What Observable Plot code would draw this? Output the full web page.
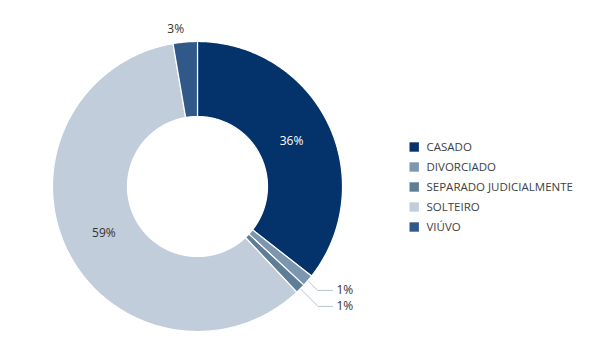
<!DOCTYPE html>
<html>
<head>
<meta charset="utf-8">
<script src="https://cdn.jsdelivr.net/npm/d3@7"></script>
<script src="https://cdn.jsdelivr.net/npm/@observablehq/plot@0.6"></script>
<style>
  html, body { margin: 0; padding: 0; background: #fff; }
  #chart { width: 603px; height: 340px; }
</style>
</head>
<body>
<div id="chart"></div>
<script>
// ---- data ----
const categories = ["CASADO", "DIVORCIADO", "SEPARADO JUDICIALMENTE", "SOLTEIRO", "VIÚVO"];
const values = [35.6, 1.3, 1.1, 59.3, 2.7];
const colors = ["#03336a", "#7d96b0", "#5e7e98", "#c1cdda", "#30598a"];

// ---- layout ----
const W = 603, H = 340;
const cx = 197, cy = 186;          // donut centre in pixels
const R0 = 70, R1 = 145;           // inner / outer radius
const font = "'Open Sans', 'Noto Sans', sans-serif";

const data = categories.map((name, i) => ({name, value: values[i]}));
const total = d3.sum(values);
const arcs = d3.pie().sort(null).value(d => d.value)(data);

const pt = (r, a) => ({x: r * Math.sin(a), y: -r * Math.cos(a)});

// slice outlines (sampled along the arcs)
const rows = [];
for (const a of arcs) {
  const n = Math.max(2, Math.ceil((a.endAngle - a.startAngle) / 0.01));
  for (let k = 0; k <= n; k++) {
    const t = a.startAngle + (a.endAngle - a.startAngle) * k / n;
    rows.push({name: a.data.name, ...pt(R1, t)});
  }
  for (let k = n; k >= 0; k--) {
    const t = a.startAngle + (a.endAngle - a.startAngle) * k / n;
    rows.push({name: a.data.name, ...pt(R0, t)});
  }
}

const pct = a => Math.round(a.data.value / total * 100) + "%";
const mid = a => (a.startAngle + a.endAngle) / 2;

// inside labels
const inside = arcs.filter(a => a.data.value / total >= 0.05)
  .map(a => ({...pt((R0 + R1) / 2 - 3, mid(a)), text: pct(a), name: a.data.name}));

// outside label at top (left half)
const topLabels = arcs.filter(a => a.data.value / total < 0.05 && mid(a) > Math.PI)
  .map(a => ({...pt(R1 + 13, mid(a)), text: pct(a)}));

// leader-line labels (right half)
const small = arcs.filter(a => a.data.value / total < 0.05 && mid(a) <= Math.PI);
const leaderRows = [];
const leaderLabels = [];
let lastY = -Infinity;
small.forEach((a, i) => {
  const s = pt(R1 + 1, mid(a));
  const e0 = pt(R1 + 15, mid(a));
  let ly = Math.max(e0.y, lastY + 16);
  lastY = ly;
  const ex = s.x + (ly - s.y);
  leaderRows.push({id: i, x: s.x, y: s.y}, {id: i, x: ex, y: ly}, {id: i, x: 135, y: ly});
  leaderLabels.push({x: 139, y: ly, text: pct(a)});
});

// legend
const legend = categories.map((name, i) => ({name, x: 409 + 4.7 - cx, y: 146.5 + i * 20 - cy}));

const plot = Plot.plot({
  width: W,
  height: H,
  margin: 0,
  style: {fontFamily: font, background: "#fff"},
  x: {domain: [-cx, W - cx], range: [0, W], axis: null},
  y: {domain: [-cy, H - cy], range: [0, H], axis: null},
  color: {domain: categories, range: colors, legend: false},
  marks: [
    Plot.line(rows, {x: "x", y: "y", z: "name", fill: "name", stroke: "white", strokeWidth: 1.2, curve: "linear-closed"}),
    Plot.line(leaderRows, {x: "x", y: "y", z: "id", stroke: "#b9c3ce", strokeWidth: 1}),
    Plot.text(inside, {x: "x", y: "y", text: "text", fontSize: 12, fill: d => d.name === "CASADO" ? "#ffffff" : "#333333", fontWeight: d => d.name === "CASADO" ? 600 : 400}),
    Plot.text(topLabels, {x: "x", y: "y", text: "text", fontSize: 12, fill: "#333", textAnchor: "end"}),
    Plot.text(leaderLabels, {x: "x", y: "y", text: "text", fontSize: 12, fill: "#333", textAnchor: "start"}),
    Plot.dot(legend, {x: "x", y: "y", fill: "name", symbol: "square", r: 5.3, stroke: null}),
    Plot.text(legend, {x: d => d.x + 12.3, y: "y", text: "name", fontSize: 11.5, fill: "#404040", textAnchor: "start"})
  ]
});
document.getElementById("chart").appendChild(plot);
</script>
</body>
</html>
